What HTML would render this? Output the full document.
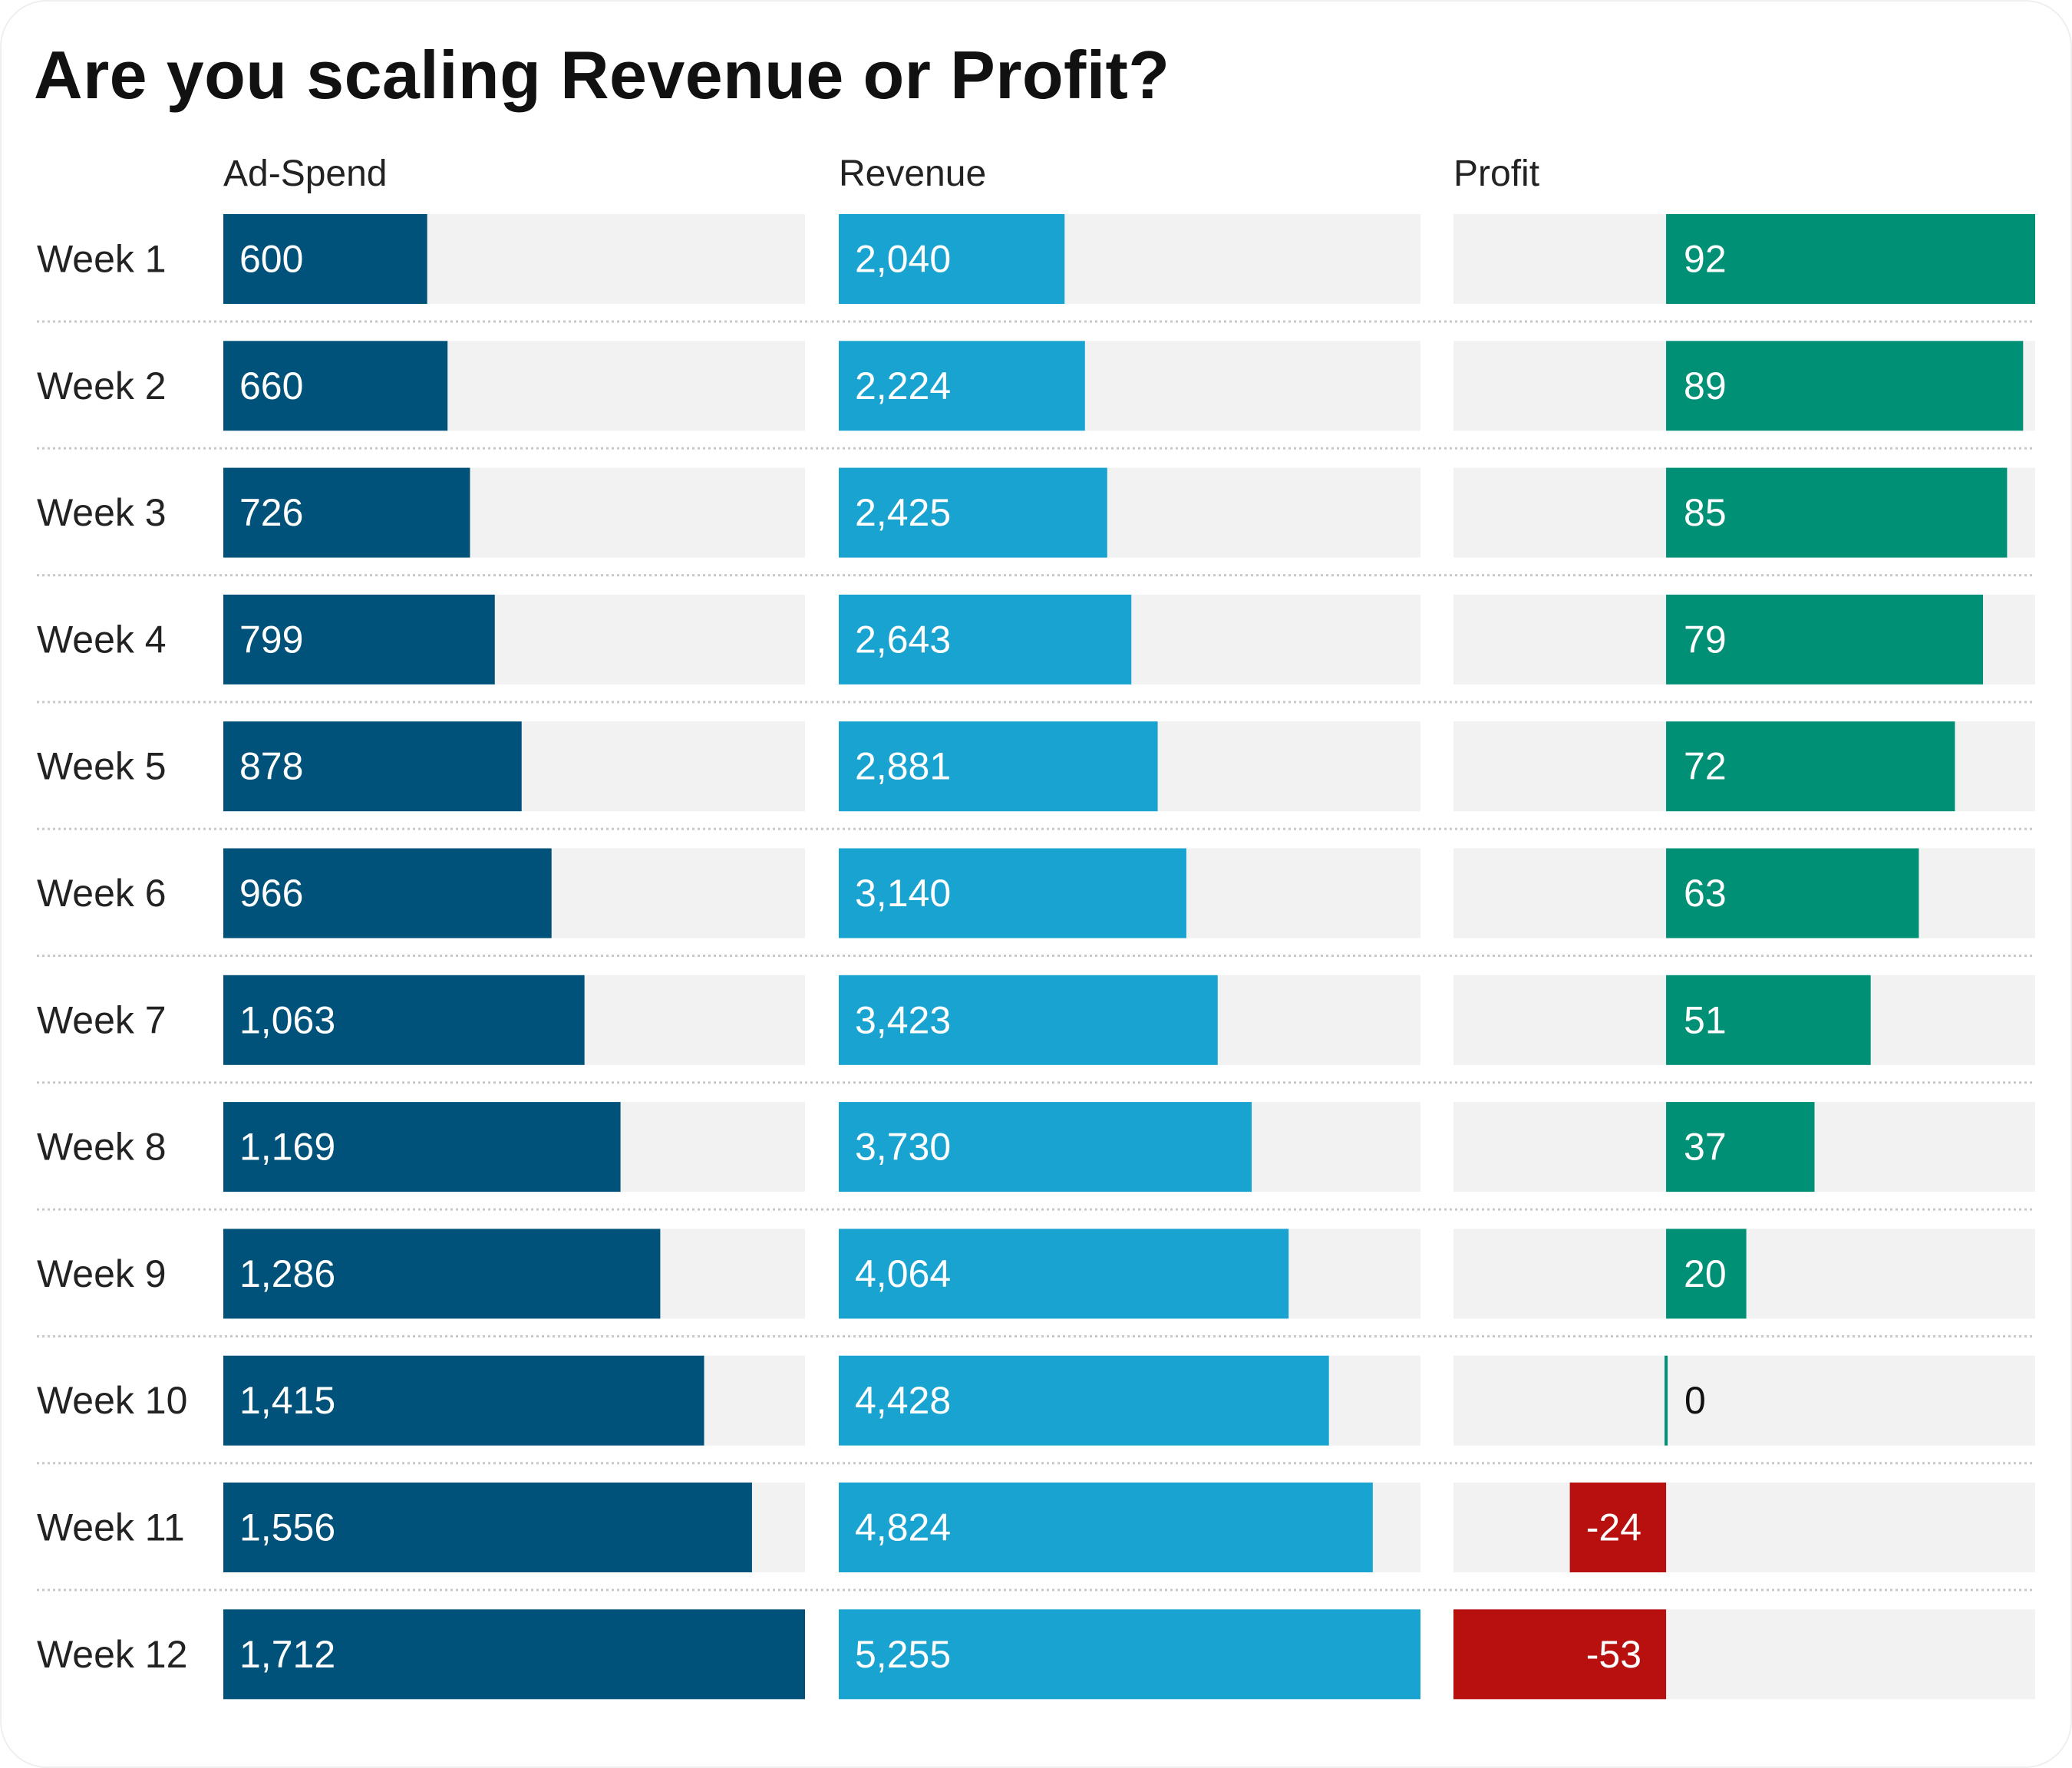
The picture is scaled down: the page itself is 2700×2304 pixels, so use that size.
<!DOCTYPE html>
<html><head><meta charset="utf-8"><style>
html,body{margin:0;padding:0;background:#fff}
svg{display:block}
text{font-family:"Liberation Sans",Arial,sans-serif}
</style></head><body>
<svg id="chart" width="2700" height="2304" viewBox="0 0 2700 2304" xmlns="http://www.w3.org/2000/svg">
<rect x="1" y="1" width="2698" height="2302" rx="60" fill="#fff" stroke="#efefef" stroke-width="2"/>
<text x="44" y="128" font-size="88" font-weight="bold" fill="#111" textLength="1480">Are you scaling Revenue or Profit?</text>
<g id="g"></g>
</svg>
<script>
const weeks = ["Week 1","Week 2","Week 3","Week 4","Week 5","Week 6","Week 7","Week 8","Week 9","Week 10","Week 11","Week 12"];
const adSpend = [600,660,726,799,878,966,1063,1169,1286,1415,1556,1712];
const revenue = [2040,2224,2425,2643,2881,3140,3423,3730,4064,4428,4824,5255];
const profit = [92,89,85,79,72,63,51,37,20,0,-24,-53];
const headers = ["Ad-Spend","Revenue","Profit"];

const NS="http://www.w3.org/2000/svg";
const g=document.getElementById('g');
function el(tag,attrs,parent){const e=document.createElementNS(NS,tag);for(const k in attrs)e.setAttribute(k,attrs[k]);(parent||g).appendChild(e);return e;}
const cols=[{x0:291,x1:1049},{x0:1093,x1:1851},{x0:1894,x1:2652}];
const rowY=i=>279+i*165.3;
const barH=117;
const xAd=v=>cols[0].x0+v/Math.max(...adSpend)*(cols[0].x1-cols[0].x0);
const xRev=v=>cols[1].x0+v/Math.max(...revenue)*(cols[1].x1-cols[1].x0);
const pMin=Math.min(...profit),pMax=Math.max(...profit);
const xProf=v=>cols[2].x0+(v-pMin)/(pMax-pMin)*(cols[2].x1-cols[2].x0);
const fmt=v=>v.toLocaleString('en-US');

headers.forEach((h,j)=>{
  const t=el('text',{x:cols[j].x0,y:242,'font-size':48,fill:'#222'});
  
  
  t.textContent=h;
});

weeks.forEach((w,i)=>{
  const y=rowY(i), cy=y+barH/2+17;
  const lab=el('text',{x:48,y:cy,'font-size':50,fill:'#222'});
  
  
  lab.textContent=w;
  if(i<weeks.length-1){
    const ln=el('line',{x1:48,x2:2652,y1:y+140,y2:y+140,stroke:'#c8c8c8','stroke-width':3,'stroke-dasharray':'3 4'});
    
    
  }
  cols.forEach((c,j)=>{
    const tr=el('rect',{x:c.x0,y:y,width:c.x1-c.x0,height:barH,fill:'#f2f2f2'});
    
    
  });
  const b1=el('rect',{x:cols[0].x0,y:y,width:xAd(adSpend[i])-cols[0].x0,height:barH,fill:'#00527a'});
  
  
  const t1=el('text',{x:cols[0].x0+21,y:cy,'font-size':50,fill:'#fff'});
  
  
  t1.textContent=fmt(adSpend[i]);
  const b2=el('rect',{x:cols[1].x0,y:y,width:xRev(revenue[i])-cols[1].x0,height:barH,fill:'#18a3d0'});
  
  
  const t2=el('text',{x:cols[1].x0+21,y:cy,'font-size':50,fill:'#fff'});
  
  
  t2.textContent=fmt(revenue[i]);
  const v=profit[i], z=xProf(0), xv=xProf(v);
  let b3;
  if(v>0){
    b3=el('rect',{x:z,y:y,width:xv-z,height:barH,fill:'#009075'});
  }else if(v<0){
    b3=el('rect',{x:xv,y:y,width:z-xv,height:barH,fill:'#b80f0f'});
  }else{
    b3=el('rect',{x:z-2,y:y,width:4,height:barH,fill:'#009075'});
  }
  
  
  let t3;
  if(v>0) t3=el('text',{x:z+23,y:cy,'font-size':50,fill:'#fff'});
  else if(v<0) t3=el('text',{x:z-32,y:cy,'font-size':50,fill:'#fff','text-anchor':'end'});
  else t3=el('text',{x:z+24,y:cy,'font-size':50,fill:'#111'});
  
  
  t3.textContent=fmt(v);
});
</script>
</body></html>
